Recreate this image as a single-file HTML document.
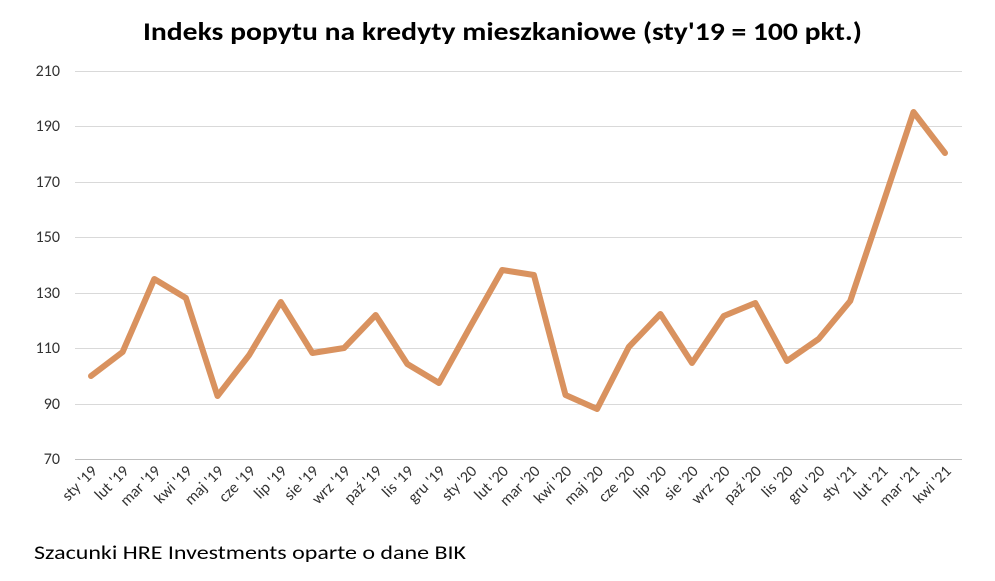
<!DOCTYPE html>
<html><head><meta charset="utf-8"><style>
body{margin:0;background:#fff;width:995px;height:576px;overflow:hidden}
</style></head><body>
<svg width="995" height="576" xmlns="http://www.w3.org/2000/svg" font-family="Calibri, Carlito, 'Liberation Sans', sans-serif">
<text x="143" y="40" font-size="25" font-weight="bold" fill="#000" textLength="719" lengthAdjust="spacingAndGlyphs">Indeks popytu na kredyty mieszkaniowe (sty'19 = 100 pkt.)</text>
<g stroke="#d9d9d9" stroke-width="1">
<line x1="75" x2="962" y1="71.5" y2="71.5"/><line x1="75" x2="962" y1="126.5" y2="126.5"/>
<line x1="75" x2="962" y1="182.5" y2="182.5"/><line x1="75" x2="962" y1="237.5" y2="237.5"/>
<line x1="75" x2="962" y1="293.5" y2="293.5"/><line x1="75" x2="962" y1="348.5" y2="348.5"/>
<line x1="75" x2="962" y1="404.5" y2="404.5"/>
</g>
<line x1="75" x2="962" y1="459.5" y2="459.5" stroke="#bfbfbf"/>
<g font-size="16" fill="#333" text-anchor="end">
<text x="60" y="76">210</text><text x="60" y="131">190</text><text x="60" y="187">170</text>
<text x="60" y="242">150</text><text x="60" y="298">130</text><text x="60" y="353">110</text>
<text x="60" y="409">90</text><text x="60" y="464">70</text>
</g>
<polyline fill="none" stroke="#d9925f" stroke-width="6" stroke-linejoin="round" stroke-linecap="round"
points="91,376 122.6,352 154.3,279 185.9,298 217.5,396 249.2,355 280.8,302 312.4,353 344.1,348 375.7,315 407.3,364 439,383 470.6,326 502.2,270 533.9,275 565.5,395 597.1,409 628.8,347 660.4,314 692,363 723.7,316 755.3,303 786.9,361 818.6,339 850.2,301 881.8,207 913.5,112 945,153"/>
<g font-size="16" fill="#333" text-anchor="end">
<text transform="translate(98,472) rotate(-45)">sty '19</text>
<text transform="translate(129.6,472) rotate(-45)">lut '19</text>
<text transform="translate(161.3,472) rotate(-45)">mar '19</text>
<text transform="translate(192.9,472) rotate(-45)">kwi '19</text>
<text transform="translate(224.5,472) rotate(-45)">maj '19</text>
<text transform="translate(256.2,472) rotate(-45)">cze '19</text>
<text transform="translate(287.8,472) rotate(-45)">lip '19</text>
<text transform="translate(319.4,472) rotate(-45)">sie '19</text>
<text transform="translate(351.1,472) rotate(-45)">wrz '19</text>
<text transform="translate(382.7,472) rotate(-45)">paź '19</text>
<text transform="translate(414.3,472) rotate(-45)">lis '19</text>
<text transform="translate(446,472) rotate(-45)">gru '19</text>
<text transform="translate(477.6,472) rotate(-45)">sty '20</text>
<text transform="translate(509.2,472) rotate(-45)">lut '20</text>
<text transform="translate(540.9,472) rotate(-45)">mar '20</text>
<text transform="translate(572.5,472) rotate(-45)">kwi '20</text>
<text transform="translate(604.1,472) rotate(-45)">maj '20</text>
<text transform="translate(635.8,472) rotate(-45)">cze '20</text>
<text transform="translate(667.4,472) rotate(-45)">lip '20</text>
<text transform="translate(699,472) rotate(-45)">sie '20</text>
<text transform="translate(730.7,472) rotate(-45)">wrz '20</text>
<text transform="translate(762.3,472) rotate(-45)">paź '20</text>
<text transform="translate(793.9,472) rotate(-45)">lis '20</text>
<text transform="translate(825.6,472) rotate(-45)">gru '20</text>
<text transform="translate(857.2,472) rotate(-45)">sty '21</text>
<text transform="translate(888.8,472) rotate(-45)">lut '21</text>
<text transform="translate(920.5,472) rotate(-45)">mar '21</text>
<text transform="translate(952,472) rotate(-45)">kwi '21</text>
</g>
<text x="34" y="559" font-size="19" fill="#000" textLength="432" lengthAdjust="spacingAndGlyphs">Szacunki HRE Investments oparte o dane BIK</text>
</svg>
</body></html>
